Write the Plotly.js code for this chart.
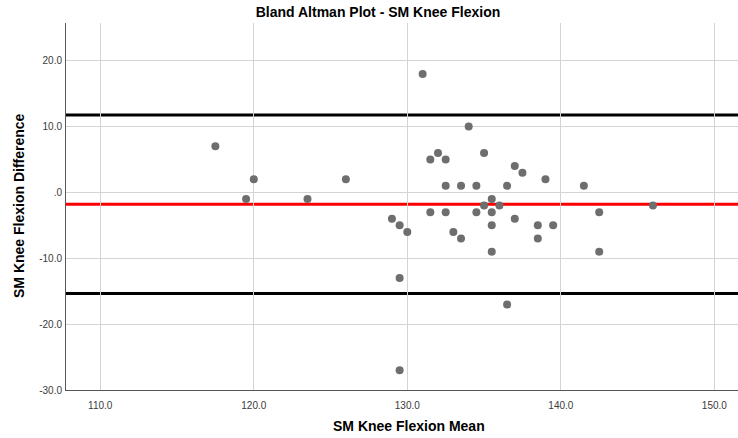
<!DOCTYPE html>
<html>
<head>
<meta charset="utf-8">
<script src="https://cdn.plot.ly/plotly-3.0.1.min.js"></script>
<style>
html,body{margin:0;padding:0;background:#fff;}
#chart{width:738px;height:438px;}
</style>
</head>
<body>
<div id="chart"></div>
<script>
// Mean of the two measurements (x) and their difference (y)
const meanValues = [117.5, 119.5, 120, 123.5, 126, 129, 129.5, 130, 129.5, 129.5,
  131, 134, 131.5, 132, 132.5, 135, 137, 137.5, 132.5, 133.5,
  134.5, 136.5, 135.5, 135, 136, 131.5, 132.5, 134.5, 135.5, 137,
  133, 133.5, 135.5, 135.5, 136.5, 139, 141.5, 146, 142.5, 138.5,
  139.5, 138.5, 142.5];
const diffValues = [7, -1, 2, -1, 2, -4, -5, -6, -13, -27,
  18, 10, 5, 6, 5, 6, 4, 3, 1, 1,
  1, 1, -1, -2, -2, -3, -3, -3, -3, -4,
  -6, -7, -5, -9, -17, 2, 1, -2, -3, -5,
  -5, -7, -9];

// Reference lines: mean difference and limits of agreement
const meanDifference = -1.8;
const upperLimit = 11.75;
const lowerLimit = -15.35;

const xTickVals = [110, 120, 130, 140, 150];
const xTickText = ['110.0', '120.0', '130.0', '140.0', '150.0'];
const yTickVals = [-30, -20, -10, 0, 10, 20];
const yTickText = ['-30.0', '-20.0', '-10.0', '.0', '10.0', '20.0'];

const titleText = 'Bland Altman Plot - SM Knee Flexion';
const xTitle = 'SM Knee Flexion Mean';
const yTitle = 'SM Knee Flexion Difference';

const FONT = 'Liberation Sans, Arial, sans-serif';

const trace = {
  x: meanValues,
  y: diffValues,
  type: 'scatter',
  mode: 'markers',
  marker: {size: 8, color: '#6e6e6e', line: {width: 0}},
  hoverinfo: 'x+y'
};

function hline(yv, color) {
  return {type: 'line', xref: 'paper', x0: 0, x1: 1, yref: 'y', y0: yv, y1: yv,
          line: {color: color, width: 3}, layer: 'below'};
}

const layout = {
  width: 738, height: 438,
  margin: {l: 66, r: 0, t: 23, b: 48, pad: 0},
  paper_bgcolor: '#ffffff',
  plot_bgcolor: '#ffffff',
  showlegend: false,
  font: {family: FONT, size: 10, color: '#3a3a3a'},
  title: {text: '<b>' + titleText + '</b>', font: {family: FONT, size: 14, color: '#000000'},
          x: 378 / 738, xanchor: 'center', y: 1 - 12 / 438, yanchor: 'middle'},
  xaxis: {
    range: [107.77, 151.54], tickvals: xTickVals, ticktext: xTickText,
    showgrid: true, gridcolor: '#d4d4d4', gridwidth: 1,
    zeroline: false, showline: true, linecolor: '#555555', linewidth: 1,
    ticks: 'outside', ticklen: 6, tickcolor: 'rgba(0,0,0,0)',
    tickfont: {family: FONT, size: 10, color: '#3a3a3a'},
    mirror: false
  },
  yaxis: {
    range: [-30, 25.73], tickvals: yTickVals, ticktext: yTickText,
    showgrid: true, gridcolor: '#d4d4d4', gridwidth: 1,
    zeroline: false, showline: true, linecolor: '#555555', linewidth: 1,
    ticks: 'outside', ticklen: 1, tickcolor: 'rgba(0,0,0,0)',
    tickfont: {family: FONT, size: 10, color: '#3a3a3a'},
    mirror: false
  },
  shapes: [
    hline(upperLimit, '#000000'),
    hline(lowerLimit, '#000000'),
    hline(meanDifference, '#ff0000')
  ],
  annotations: [
    {text: '<b>' + xTitle + '</b>', xref: 'paper', yref: 'paper',
     x: (409 - 66) / 672, y: -(426 - 390) / 367, xanchor: 'center', yanchor: 'middle',
     showarrow: false, font: {family: FONT, size: 14, color: '#000000'}},
    {text: '<b>' + yTitle + '</b>', xref: 'paper', yref: 'paper', textangle: -90,
     x: -(66 - 19) / 672, y: (390 - 206) / 367, xanchor: 'center', yanchor: 'middle',
     showarrow: false, font: {family: FONT, size: 14, color: '#000000'}}
  ]
};

Plotly.newPlot('chart', [trace], layout, {displayModeBar: false, staticPlot: true});
</script>
</body>
</html>
